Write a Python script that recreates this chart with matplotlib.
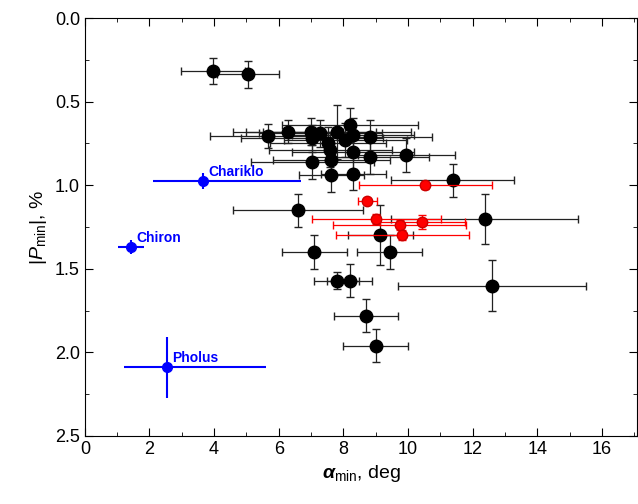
import matplotlib
matplotlib.use("Agg")
import matplotlib.pyplot as plt
import numpy as np

plt.rcParams['font.family'] = ['Liberation Sans', 'DejaVu Sans']
plt.rcParams['mathtext.fontset'] = 'custom'
plt.rcParams['mathtext.rm'] = 'Liberation Sans'
plt.rcParams['mathtext.it'] = 'Liberation Sans:italic'
plt.rcParams['mathtext.bf'] = 'Liberation Sans:bold:italic'

# black objects
bx = [3.97,5.05,5.67,6.3,7.0,7.29,7.8,8.2,8.3,8.84,7.04,7.53,8.06,7.6,8.3,8.84,9.95,7.04,7.63,7.63,8.31,11.38,6.6,12.37,9.15,7.1,9.43,7.8,8.2,12.6,8.7,9.0]
by = [0.317,0.335,0.706,0.68,0.68,0.69,0.68,0.64,0.70,0.71,0.72,0.75,0.73,0.79,0.80,0.83,0.82,0.86,0.85,0.94,0.93,0.97,1.15,1.20,1.30,1.40,1.40,1.57,1.57,1.60,1.78,1.96]
bxe = [1.0,0.95,1.8,1.7,2.0,1.9,2.3,2.1,1.9,1.9,2.2,1.8,1.9,1.9,1.9,1.8,1.5,1.9,1.8,1.0,1.0,1.9,2.0,2.9,1.0,1.0,1.0,0.7,0.7,2.9,1.0,1.0]
bye = [0.08,0.08,0.07,0.07,0.08,0.08,0.16,0.1,0.1,0.1,0.08,0.1,0.1,0.1,0.1,0.1,0.1,0.1,0.1,0.1,0.1,0.1,0.1,0.15,0.18,0.1,0.1,0.05,0.1,0.15,0.1,0.1]
# red objects
rx = [10.54,8.74,9.02,9.74,10.45,9.83]
ry = [1.0,1.095,1.20,1.24,1.22,1.30]
rxe = [2.05,0.3,2.0,2.05,1.3,2.05]
rye = [0.02,0.02,0.03,0.03,0.04,0.03]
# blue objects
names = ["Chariklo","Chiron","Pholus"]
cx = [3.66,1.43,2.54]
cy = [0.975,1.37,2.09]
cxe = [[1.56,0.4,1.34],[3.04,0.4,3.06]]
cye = [0.05,0.04,0.18]

fig = plt.figure(figsize=(6.38,5.04), dpi=100)
ax = fig.add_axes([0.133,0.135,0.866,0.829])
ax.errorbar(bx,by,xerr=bxe,yerr=bye,fmt='o',color='black',ms=9,ecolor='#222222',elinewidth=0.9,capsize=3,zorder=3)
ax.errorbar(rx,ry,xerr=rxe,yerr=rye,fmt='o',color='red',ms=7.5,mec='#cc0000',ecolor='red',elinewidth=0.9,capsize=3,zorder=4)
ax.errorbar(cx,cy,xerr=cxe,yerr=cye,fmt='o',color='blue',ms=7,ecolor='blue',elinewidth=1.5,capsize=0,zorder=4)
for n,x,y in zip(names,cx,cy):
    ax.text(x+0.15,y-0.03,n,color='blue',fontweight='bold',fontsize=10)
ax.set_xlim(0,17.1)
ax.set_ylim(2.5,0)
ax.set_xticks(range(0,17,2))
ax.set_xticks(range(0,18,1),minor=True)
ax.set_yticks([0,0.5,1.0,1.5,2.0,2.5])
ax.set_yticks(np.arange(0,2.51,0.25),minor=True)
ax.yaxis.set_major_formatter(matplotlib.ticker.FormatStrFormatter('%.1f'))
ax.tick_params(direction='in',which='both',top=True,right=True,labelsize=13)
ax.tick_params(which='major',length=6)
ax.tick_params(which='minor',length=3)
ax.set_xlabel(r'$\mathbf{\alpha}_{\rm min}$, deg',fontsize=14)
ax.set_ylabel(r'$|P_{\rm min}|$, %',fontsize=14)
fig.savefig('out.png')
